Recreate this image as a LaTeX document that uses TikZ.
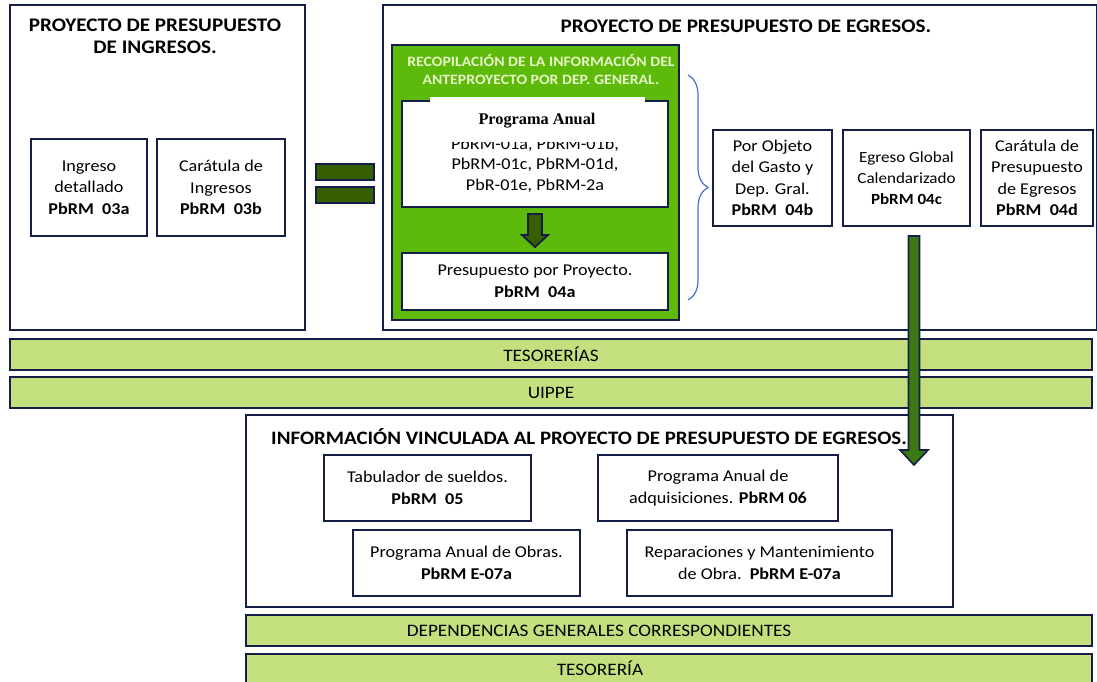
\documentclass[tikz,border=0pt]{standalone}
\usepackage{fontspec}
\setmainfont[FakeStretch=1.1]{Carlito}
\newfontfamily\serifb{Liberation Serif}
\usetikzlibrary{calc,decorations.pathreplacing}
\definecolor{navy}{RGB}{20,30,70}
\definecolor{bgreen}{RGB}{94,186,10}
\definecolor{lgreen}{RGB}{196,224,126}
\definecolor{dgreen}{RGB}{55,95,0}
\definecolor{agreen}{RGB}{60,120,20}
\definecolor{ltext}{RGB}{230,245,200}
\definecolor{bblue}{RGB}{68,114,196}
\tikzset{
  bx/.style={draw=navy, line width=2.6pt, fill=white, inner sep=0pt, outer sep=0pt, align=center,
     font=\fontsize{16.5}{21.5}\selectfont},
  bar/.style={draw=navy, line width=2.4pt, fill=lgreen, inner sep=0pt, outer sep=0pt,
     font=\fontsize{17.5}{20}\selectfont},
  bartxt/.style={font=\fontsize{17.5}{20}\selectfont, inner sep=0pt},
  ttl/.style={font=\bfseries\fontsize{19.2}{22}\selectfont, inner sep=0pt, align=center},
}
\newcommand{\R}[5]{\node[#1, minimum width={#4-#2}, minimum height={#5-#3}] at ({(#2+#4)/2},{(#3+#5)/2})}
\begin{document}
\begin{tikzpicture}[x=1pt,y=-1pt]
\useasboundingbox[fill=white] (0,0) rectangle (1097,681);
% Ingresos
\R{bx}{10}{5}{305}{330} (ing) {};
\node[ttl] (ingt) at (155,36) {PROYECTO DE PRESUPUESTO\\DE INGRESOS.};
\R{bx}{31}{139}{147}{236} (ind) {Ingreso\\detallado\\\textbf{PbRM\ \ 03a}};
\R{bx}{157}{139}{285}{236} (cai) {Carátula de\\Ingresos\\\textbf{PbRM\ \ 03b}};
% equals
\R{bx,fill=dgreen,line width=2pt}{316}{164}{374}{180} (eq1) {};
\R{bx,fill=dgreen,line width=2pt}{316}{187}{374}{203} (eq2) {};
% Egresos
\R{bx}{383}{5}{1097}{330} (egr) {};
\node[ttl] (egrt) at (746,26) {PROYECTO DE PRESUPUESTO DE EGRESOS.};
\R{bx,fill=bgreen}{392}{45}{679}{320} (grn) {};
\node[font=\bfseries\fontsize{14.3}{18}\selectfont, text=ltext, align=center, inner sep=0pt] (grnt) at (541,70)
  {RECOPILACIÓN DE LA INFORMACIÓN DEL\\ANTEPROYECTO POR DEP. GENERAL.};
\R{bx}{402}{101}{668}{207} (pa) {};
\node[font=\fontsize{16.5}{20.5}\selectfont, align=center, inner sep=0pt] (pat) at (535,165)
  {PbRM-01a, PbRM-01b,\\PbRM-01c, PbRM-01d,\\PbR-01e, PbRM-2a};
\R{bx,draw=none}{430}{97}{645}{142} (pap) {};
\node[font=\serifb\bfseries\fontsize{16.3}{18}\selectfont, inner sep=0pt] (pal) at (537,121) {Programa Anual};
\R{bx}{402}{253}{668}{310} (ppp) {Presupuesto por Proyecto.\\\textbf{PbRM\ \ 04a}};
% small down arrow
\draw[navy, line width=1.8pt, fill=dgreen]
  ($(pa.south)+(-7,7)$) -- ($(pa.south)+(7,7)$) -- ($(pa.south)+(7,28)$) -- ($(pa.south)+(13,28)$)
  -- ($(ppp.north)+(0,-6)$) -- ($(pa.south)+(-13,28)$) -- ($(pa.south)+(-7,28)$) -- cycle;
% brace
\coordinate (bt) at (688,75);
\coordinate (bb) at (688,300);
\draw[bblue, line width=1.2pt, decorate, decoration={brace, amplitude=20pt}] (bt) -- (bb);
% right boxes
\R{bx}{713}{130}{832}{226} (pog) {Por Objeto\\del Gasto y\\Dep. Gral.\\\textbf{PbRM\ \ 04b}};
\R{bx,font=\fontsize{15.5}{21}\selectfont}{843}{130}{970}{226} (egc) {Egreso Global\\Calendarizado\\\textbf{PbRM 04c}};
\R{bx}{981}{130}{1093}{226} (cpe) {Carátula de\\Presupuesto\\de Egresos\\\textbf{PbRM\ \ 04d}};
% bars
\R{bar}{10}{339}{1092}{370} (tes) {TESORERÍAS};
\R{bar}{10}{377}{1092}{408} (uip) {UIPPE};
% bottom box
\R{bx}{246}{415}{953}{607} (inf) {};
\node[font=\bfseries\fontsize{19}{22}\selectfont, inner sep=0pt, anchor=west] (inft) at (271,437)
  {INFORMACIÓN VINCULADA AL PROYECTO DE PRESUPUESTO DE EGRESOS.};
\R{bx}{324}{455}{531}{521} (tab) {Tabulador de sueldos.\\\textbf{PbRM\ \ 05}};
\R{bx}{598}{455}{838}{521} (adq) {Programa Anual de\\adquisiciones. \textbf{PbRM 06}};
\R{bx}{353}{530}{580}{596} (obr) {Programa Anual de Obras.\\\textbf{PbRM E-07a}};
\R{bx}{627}{530}{892}{596} (rep) {Reparaciones y Mantenimiento\\de Obra.\ \ \textbf{PbRM E-07a}};
\R{bar}{246}{615}{1092}{646} (dep) {};
\node[bartxt] (dept) at (599,631) {DEPENDENCIAS GENERALES CORRESPONDIENTES};
\R{bar}{246}{654}{1092}{690} (tes2) {};
\node[bartxt] (tes2t) at (600,668) {TESORERÍA};
% big arrow
\coordinate (a0) at ($(egc.south)+(7.5,10)$);
\coordinate (at) at (a0 |- inf.north);
\coordinate (tip) at ($(at)+(0,50)$);
\draw[navy, line width=1.6pt, fill=agreen]
  ($(a0)+(-5.5,0)$) -- ($(a0)+(5.5,0)$) -- ($(tip)+(5.5,-15)$) -- ($(tip)+(14,-15)$)
  -- (tip) -- ($(tip)+(-14,-15)$) -- ($(tip)+(-5.5,-15)$) -- cycle;
\end{tikzpicture}
\end{document}
